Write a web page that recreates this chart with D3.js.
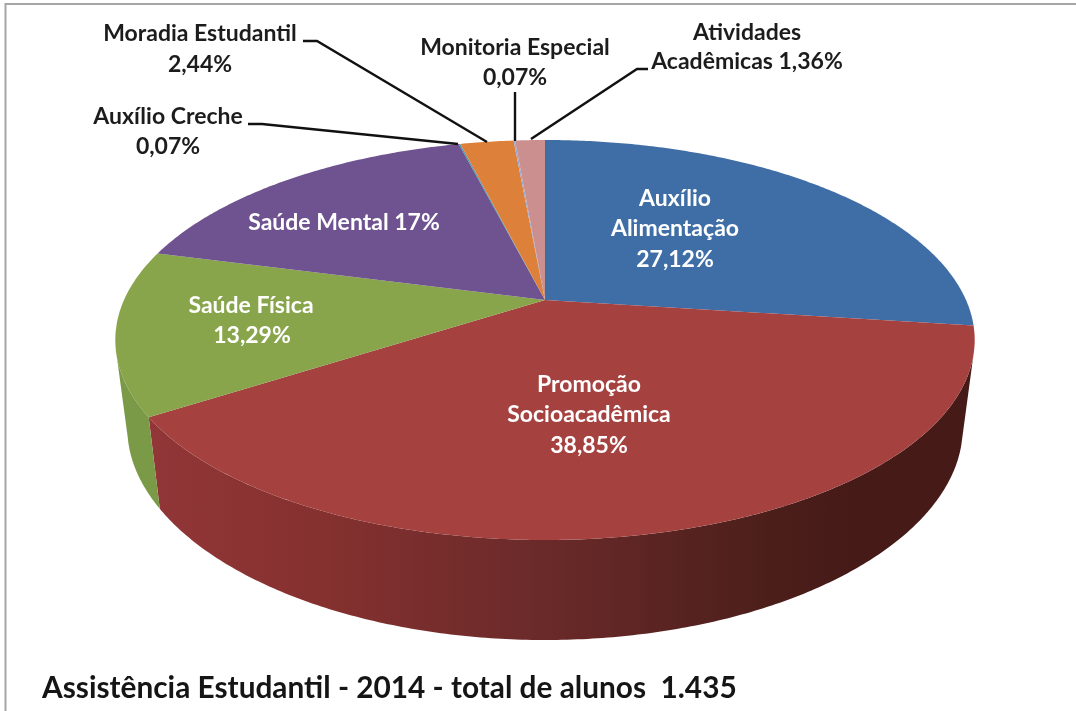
<!DOCTYPE html>
<html>
<head>
<meta charset="utf-8">
<script src="https://d3js.org/d3.v7.min.js"></script>
<style>
    html, body { margin: 0; padding: 0; background: #fff; }
    svg { display: block; filter: blur(0.5px); }
    text { font-family: Lato, "Open Sans", sans-serif; font-weight: 700; }
</style>
</head>
<body>
<script>
    const w = 1076
    const h = 711

    // clockwise from 12 o'clock
    const categories = ["Auxílio Alimentação", "Promoção Socioacadêmica", "Saúde Física", "Saúde Mental",
        "Auxílio Creche", "Moradia Estudantil", "Monitoria Especial", "Atividades Acadêmicas"]
    const values = [27.12, 38.85, 13.29, 17, 0.07, 2.44, 0.07, 1.36]
    const topColors = ["#3f6ea6", "#a54240", "#88a54b", "#6e5390", "#4198af", "#dd813a", "#93a9cf", "#cc8f8f"]
    const title = "Assistência Estudantil - 2014 - total de alunos  1.435"

    // tilted disc: perspective makes the centre sit above the middle of the ellipse
    const cx = 545, apexY = 300, radiusX = 421
    const persp = -0.2, spreadY = 132
    const depth = 100, bottomShrink = 0.972
    const wallFrom = 106 * Math.PI / 180
    const wallTo = 256 * Math.PI / 180

    const project = (a, r = 1) => {
        const u = r * Math.sin(a), v = -r * Math.cos(a)
        const k = 1 / (1 + persp * v)
        return [cx + radiusX * u * k, (spreadY * v + apexY) * k]
    }
    const projectBottom = a => {
        const [x, y] = project(a)
        const u = Math.sin(a)
        return [cx + (x - cx) * bottomShrink, y + depth * (1 - 0.12 * u * u)]
    }
    const sample = (a0, a1) => {
        const n = Math.max(2, Math.ceil(Math.abs(a1 - a0) / 0.01))
        return d3.range(n + 1).map(i => a0 + (a1 - a0) * i / n)
    }

    const arcs = d3.pie().sort(null).value(d => d)(values)
    const line = d3.line()

    const svg = d3.select("body").append("svg").attr("width", w).attr("height", h)
    svg.append("rect").attr("width", w).attr("height", h).attr("fill", "#fff")

    // picture frame
    svg.append("path").attr("d", "M5.5,711V4H1076").attr("fill", "none").attr("stroke", "#a6a6a6").attr("stroke-width", 2)

    // wall shading
    const defs = svg.append("defs")
    const redWall = defs.append("linearGradient").attr("id", "redWall")
        .attr("gradientUnits", "userSpaceOnUse").attr("x1", 150).attr("x2", 975).attr("y1", 0).attr("y2", 0)
    redWall.selectAll("stop").data([[0, "#923638"], [0.2, "#85312f"], [0.47, "#6b2a2a"], [0.72, "#4f201c"], [0.85, "#451a17"], [1, "#451a17"]])
        .join("stop").attr("offset", d => d[0]).attr("stop-color", d => d[1])

    const wallFill = ["none", "url(#redWall)", "#7b9a48", "none", "none", "none", "none", "none"]
    arcs.forEach((d, i) => {
        const a0 = Math.max(d.startAngle, wallFrom), a1 = Math.min(d.endAngle, wallTo)
        if (a1 <= a0) return
        const angles = sample(a0, a1)
        const pts = angles.map(a => project(a)).concat(angles.slice().reverse().map(projectBottom))
        svg.append("path").attr("d", line(pts) + "Z").attr("fill", wallFill[i])
    })

    // top face
    svg.selectAll(".slice").data(arcs).join("path")
        .attr("class", "slice")
        .attr("fill", (d, i) => topColors[i])
        .attr("d", d => line([[cx, apexY], ...sample(d.startAngle, d.endAngle).map(a => project(a))]) + "Z")

    // leader lines
    const leaders = [
        [[248, 124], [262, 124], [458, 144]],
        [[303, 41], [317, 41], [487, 142]],
        [[515, 92], [515, 141]],
        [[648, 69], [637, 69], [531, 139]]
    ]
    svg.selectAll(".leader").data(leaders).join("path")
        .attr("class", "leader").attr("d", line).attr("fill", "none")
        .attr("stroke", "#111").attr("stroke-width", 2.4)

    // labels: [text, centre x, baseline, colour]
    const dark = "#1c1c1c"
    const labels = [
        ["Moradia Estudantil", 200, 41, dark], ["2,44%", 200, 72, dark],
        ["Auxílio Creche", 168, 124, dark], ["0,07%", 168, 154, dark],
        ["Monitoria Especial", 515, 55, dark], ["0,07%", 515, 85, dark],
        ["Atividades", 747, 40, dark], ["Acadêmicas 1,36%", 747, 69, dark],
        ["Auxílio", 675, 206, "#fff"], ["Alimentação", 675, 236, "#fff"], ["27,12%", 675, 267, "#fff"],
        ["Saúde Mental 17%", 344, 230, "#fff"],
        ["Saúde Física", 251, 313, "#fff"], ["13,29%", 252, 343, "#fff"],
        ["Promoção", 589, 392, "#fff"], ["Socioacadêmica", 589, 422, "#fff"], ["38,85%", 589, 453, "#fff"]
    ]
    svg.selectAll(".label").data(labels).join("text")
        .attr("class", "label")
        .attr("x", d => d[1]).attr("y", d => d[2])
        .attr("text-anchor", "middle").attr("fill", d => d[3])
        .style("font-size", "23px")
        .text(d => d[0])

    svg.append("text").attr("x", 42).attr("y", 698)
        .attr("fill", "#151515").style("font-size", "29.8px").style("font-weight", 700)
        .style("white-space", "pre")
        .text(title)
</script>
</body>
</html>
